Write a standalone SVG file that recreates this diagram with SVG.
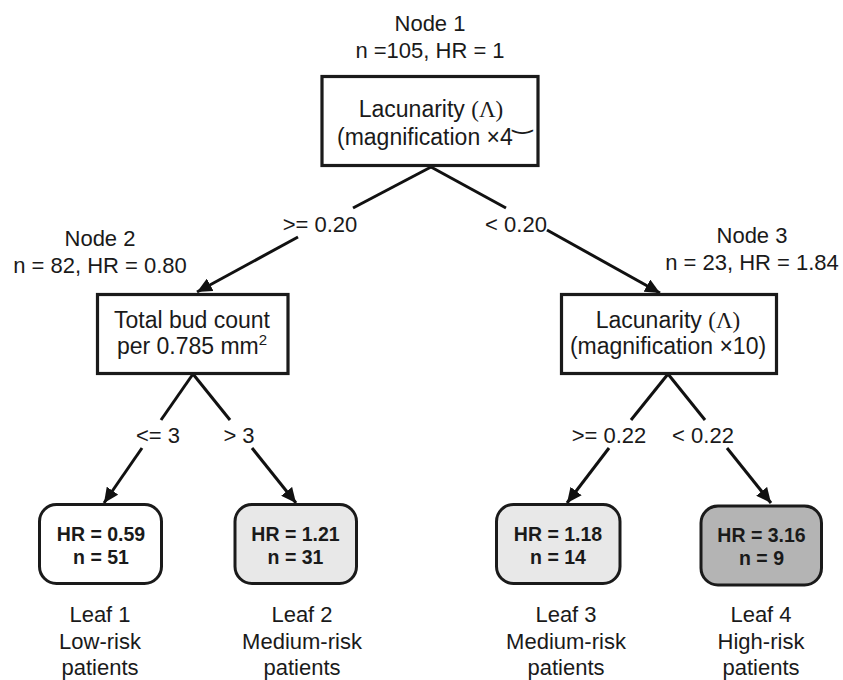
<svg xmlns="http://www.w3.org/2000/svg" width="843" height="680" viewBox="0 0 843 680">
<style>
  text { font-family: "Liberation Sans", Arial, sans-serif; fill: #1a1a1a; }
  .lbl { font-size: 22px; text-anchor: middle; }
  .box { fill: #ffffff; stroke: #1a1a1a; stroke-width: 3.2; }
  .btxt { font-size: 23px; text-anchor: middle; }
  .serif { font-family: "Liberation Serif", "Times New Roman", serif; }
  .leaf { stroke: #1a1a1a; stroke-width: 3; }
  .ltxt { font-size: 19.5px; font-weight: bold; text-anchor: middle; }
  .edge { stroke: #111111; stroke-width: 3; fill: none; }
</style>
<defs>
  <marker id="arr" markerUnits="userSpaceOnUse" markerWidth="16" markerHeight="14" refX="15" refY="7" orient="auto">
    <path d="M0,0 L15,7 L0,14 z" fill="#111111"/>
  </marker>
</defs>
<rect width="843" height="680" fill="#ffffff"/>

<g id="connectors">
  <line class="edge" x1="431" y1="167" x2="353" y2="208"/>
  <line class="edge" x1="298" y1="237" x2="197" y2="292" marker-end="url(#arr)"/>
  <line class="edge" x1="431" y1="167" x2="506" y2="208"/>
  <line class="edge" x1="547" y1="230" x2="660" y2="293" marker-end="url(#arr)"/>
  <line class="edge" x1="193" y1="374" x2="161" y2="420"/>
  <line class="edge" x1="142" y1="448" x2="104" y2="503" marker-end="url(#arr)"/>
  <line class="edge" x1="193" y1="374" x2="230" y2="420"/>
  <line class="edge" x1="252" y1="448" x2="296" y2="503" marker-end="url(#arr)"/>
  <line class="edge" x1="668" y1="374" x2="631" y2="420"/>
  <line class="edge" x1="609" y1="448" x2="567" y2="503" marker-end="url(#arr)"/>
  <line class="edge" x1="668" y1="374" x2="705" y2="420"/>
  <line class="edge" x1="727" y1="448" x2="771" y2="503" marker-end="url(#arr)"/>
  <text class="lbl" x="320" y="232">&gt;= 0.20</text>
  <text class="lbl" x="516" y="232">&lt; 0.20</text>
  <text class="lbl" x="158" y="443">&lt;= 3</text>
  <text class="lbl" x="239" y="443">&gt; 3</text>
  <text class="lbl" x="609" y="443">&gt;= 0.22</text>
  <text class="lbl" x="703" y="443">&lt; 0.22</text>
</g>

<g id="node1">
  <text class="lbl" x="430" y="31">Node 1</text>
  <text class="lbl" x="430" y="58">n =105, HR = 1</text>
  <rect class="box" x="322" y="76.5" width="216" height="89"/>
  <text class="btxt" x="431" y="117">Lacunarity <tspan class="serif">(Λ)</tspan></text>
  <text class="btxt" x="337" y="145" style="text-anchor:start">(magnification ×4<tspan font-family="DejaVu Sans" font-size="24" dy="-17">‿</tspan></text>
</g>

<g id="node2">
  <text class="lbl" x="100" y="246">Node 2</text>
  <text class="lbl" x="100" y="273">n = 82, HR = 0.80</text>
  <rect class="box" x="97.5" y="294.5" width="190.5" height="79"/>
  <text class="btxt" x="192" y="328">Total bud count</text>
  <text class="btxt" x="192" y="354">per 0.785 mm<tspan font-size="15" dy="-9">2</tspan></text>
</g>

<g id="node3">
  <text class="lbl" x="752" y="243">Node 3</text>
  <text class="lbl" x="752" y="270">n = 23, HR = 1.84</text>
  <rect class="box" x="561.5" y="294.5" width="215" height="79"/>
  <text class="btxt" x="668" y="328">Lacunarity <tspan class="serif">(Λ)</tspan></text>
  <text class="btxt" x="668" y="354">(magnification ×10)</text>
</g>

<g id="leaf1">
  <rect class="leaf" x="39.5" y="504.5" width="122" height="79" rx="17" fill="#ffffff"/>
  <text class="ltxt" x="101" y="541">HR = 0.59</text>
  <text class="ltxt" x="101" y="564">n = 51</text>
  <text class="lbl" x="100" y="622">Leaf 1</text>
  <text class="lbl" x="100" y="649">Low-risk</text>
  <text class="lbl" x="100" y="675">patients</text>
</g>

<g id="leaf2">
  <rect class="leaf" x="235" y="504.5" width="121.5" height="79" rx="17" fill="#e8e8e8"/>
  <text class="ltxt" x="295.5" y="541">HR = 1.21</text>
  <text class="ltxt" x="295.5" y="564">n = 31</text>
  <text class="lbl" x="302" y="622">Leaf 2</text>
  <text class="lbl" x="302" y="649">Medium-risk</text>
  <text class="lbl" x="302" y="675">patients</text>
</g>

<g id="leaf3">
  <rect class="leaf" x="496.5" y="504.5" width="123.5" height="79" rx="17" fill="#e8e8e8"/>
  <text class="ltxt" x="558" y="541">HR = 1.18</text>
  <text class="ltxt" x="558" y="564">n = 14</text>
  <text class="lbl" x="566" y="622">Leaf 3</text>
  <text class="lbl" x="566" y="649">Medium-risk</text>
  <text class="lbl" x="566" y="675">patients</text>
</g>

<g id="leaf4">
  <rect class="leaf" x="701" y="506" width="120.5" height="79" rx="17" fill="#b4b4b4"/>
  <text class="ltxt" x="761.5" y="542">HR = 3.16</text>
  <text class="ltxt" x="761.5" y="565">n = 9</text>
  <text class="lbl" x="761" y="622">Leaf 4</text>
  <text class="lbl" x="761" y="649">High-risk</text>
  <text class="lbl" x="761" y="675">patients</text>
</g>
</svg>
